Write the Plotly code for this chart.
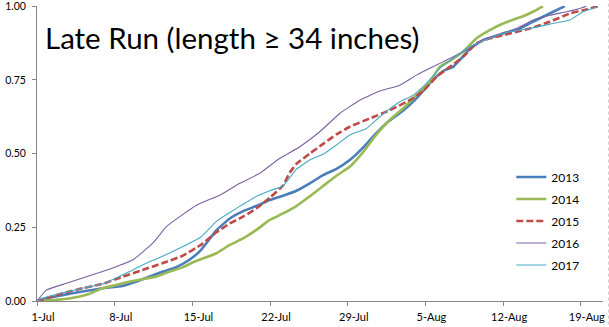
import plotly.graph_objects as go

# Days since 1-Jul and cumulative proportion of the late run, per year
days_2013 = [0, 0.49, 2.29, 4.09, 5.89, 7.7, 8.9, 10.1, 11.3, 12.5, 13.7, 14.75, 16.17, 17.37, 18.57,
             19.77, 20.97, 22.17, 23.38, 24.58, 25.78, 26.98, 28.18, 29.38, 30.59, 31.78, 32.98, 34.19,
             35.39, 36.59, 37.49, 38.09, 38.99, 40.2, 42.0, 43.5, 45.0, 46.2, 47.56]
prop_2013 = [0, 0.006, 0.02, 0.032, 0.043, 0.051, 0.065, 0.082, 0.099, 0.114, 0.139, 0.172, 0.24, 0.28,
             0.305, 0.322, 0.342, 0.357, 0.374, 0.399, 0.427, 0.448, 0.478, 0.52, 0.57, 0.612, 0.645,
             0.687, 0.738, 0.78, 0.794, 0.817, 0.855, 0.885, 0.907, 0.924, 0.953, 0.975, 1.0]

days_2014 = [0, 0.49, 2.29, 3.49, 4.69, 5.89, 7.09, 8.29, 9.5, 10.7, 11.9, 13.1, 14.1, 15.0, 16.17,
             17.37, 18.57, 19.77, 20.97, 22.17, 23.38, 24.58, 25.78, 26.98, 28.18, 29.38, 30.59, 31.78,
             32.98, 34.19, 35.39, 36.29, 37.19, 38.39, 39.6, 40.8, 42.0, 43.2, 43.8, 44.7, 45.6]
prop_2014 = [0, 0.001, 0.006, 0.013, 0.024, 0.043, 0.054, 0.065, 0.074, 0.082, 0.099, 0.114, 0.132,
             0.145, 0.162, 0.19, 0.212, 0.241, 0.275, 0.297, 0.322, 0.355, 0.39, 0.425, 0.455, 0.505,
             0.565, 0.614, 0.653, 0.698, 0.743, 0.794, 0.814, 0.845, 0.891, 0.919, 0.941, 0.958, 0.966,
             0.981, 1.0]

days_2015 = [0, 0.49, 2.29, 4.09, 5.89, 7.7, 9.5, 11.3, 13.1, 14.75, 16.17, 17.37, 18.57, 19.77, 20.97,
             22.17, 22.77, 23.38, 24.58, 25.78, 26.98, 28.18, 29.98, 31.78, 33.58, 34.79, 35.99, 37.19,
             38.39, 39.6, 40.8, 42.6, 44.4, 46.2, 48.0, 49.2, 50.55]
prop_2015 = [0, 0.005, 0.026, 0.043, 0.058, 0.082, 0.105, 0.128, 0.153, 0.19, 0.233, 0.263, 0.286,
             0.314, 0.35, 0.392, 0.435, 0.465, 0.5, 0.533, 0.565, 0.591, 0.619, 0.647, 0.681, 0.712,
             0.76, 0.794, 0.828, 0.874, 0.891, 0.907, 0.924, 0.947, 0.975, 0.986, 1.0]

days_2016 = [0, 0.85, 2.65, 4.45, 6.82, 8.62, 10.43, 11.66, 12.86, 14.37, 16.47, 18.27, 20.07, 21.88,
             23.68, 25.48, 27.28, 29.08, 30.89, 32.69, 34.19, 35.39, 36.59, 38.39, 39.9, 41.4, 43.2,
             44.7, 46.2, 47.7, 48.9, 49.5]
prop_2016 = [0, 0.037, 0.06, 0.082, 0.112, 0.139, 0.196, 0.252, 0.286, 0.325, 0.359, 0.399, 0.433,
             0.484, 0.523, 0.574, 0.636, 0.681, 0.712, 0.732, 0.766, 0.789, 0.811, 0.845, 0.879, 0.902,
             0.924, 0.953, 0.969, 0.981, 0.992, 1.0]

days_2017 = [0, 0.49, 1.69, 3.49, 4.69, 5.89, 7.09, 8.29, 9.5, 10.7, 11.9, 13.1, 14.75, 16.17, 17.37,
             18.57, 19.77, 20.97, 22.17, 23.38, 24.58, 25.78, 26.98, 28.18, 29.69, 30.89, 32.69, 33.89,
             35.09, 36.29, 37.49, 38.99, 40.8, 42.6, 44.4, 46.2, 48.0, 49.2, 50.55]
prop_2017 = [0, 0.009, 0.022, 0.038, 0.048, 0.058, 0.077, 0.099, 0.122, 0.142, 0.162, 0.184, 0.216,
             0.27, 0.3, 0.328, 0.355, 0.374, 0.39, 0.447, 0.478, 0.498, 0.529, 0.563, 0.585, 0.625,
             0.676, 0.698, 0.738, 0.789, 0.823, 0.862, 0.891, 0.913, 0.924, 0.939, 0.953, 0.981, 0.998]

tick_days = [0, 7, 14, 21, 28, 35, 42, 49]
tick_labels = ["1-Jul", "8-Jul", "15-Jul", "22-Jul", "29-Jul", "5-Aug", "12-Aug", "19-Aug"]
y_ticks = [0, 0.25, 0.5, 0.75, 1.0]

series = [
    ("2013", days_2013, prop_2013, "#4A7EBB", 2.6, "solid"),
    ("2014", days_2014, prop_2014, "#98B954", 2.6, "solid"),
    ("2015", days_2015, prop_2015, "#BE4B48", 2.6, "7px,3px"),
    ("2016", days_2016, prop_2016, "#7D60A0", 1.1, "solid"),
    ("2017", days_2017, prop_2017, "#46AAC5", 1.1, "solid"),
]

fig = go.Figure()
for name, xs, ys, color, width, dash in series:
    fig.add_trace(go.Scatter(
        x=xs, y=ys, name=name, legendgroup=name, mode="lines",
        line=dict(color=color, width=width, dash=dash, shape="spline", smoothing=0.4),
    ))

axis_color = "#868686"
font_family = "Lato, 'Noto Sans', sans-serif"

fig.update_layout(
    width=609, height=327,
    margin=dict(l=37, r=6, t=6, b=26, autoexpand=False),
    paper_bgcolor="white", plot_bgcolor="white",
    font=dict(family=font_family, color="#000000", size=11),
    showlegend=True,
    legend=dict(
        x=0.838, y=0.271, xanchor="left", yanchor="middle",
        font=dict(size=12, family=font_family),
        bgcolor="rgba(0,0,0,0)", tracegroupgap=3, itemwidth=30,
    ),
    xaxis=dict(
        range=[0, 51], tickmode="array", tickvals=tick_days, ticktext=tick_labels,
        showgrid=False, zeroline=False, showline=True, linecolor=axis_color, linewidth=1,
        ticks="outside", ticklen=4, tickcolor=axis_color, ticklabelshift=6,
        ticklabelstandoff=2, tickfont=dict(size=11), automargin=False,
    ),
    yaxis=dict(
        range=[0, 1.0005], tickmode="array", tickvals=y_ticks, tickformat=".2f",
        showgrid=False, zeroline=False, showline=True, linecolor=axis_color, linewidth=1,
        ticks="outside", ticklen=4, tickcolor=axis_color, ticklabelstandoff=4,
        ticklabeloverflow="allow", tickfont=dict(size=10.5), automargin=False,
    ),
    annotations=[dict(
        text="Late Run (length \u2265 34 inches)", xref="paper", yref="paper",
        x=0.011, y=0.893, xanchor="left", yanchor="middle", showarrow=False,
        font=dict(size=29.5, family=font_family, color="#000000"),
    )],
    shapes=[dict(
        type="line", xref="paper", yref="paper", x0=1.0097, x1=1.0097, y0=-0.08, y1=1.02,
        line=dict(color="#D0D0D0", width=1, dash="dot"),
    )],
)

fig.write_html("out.html")
